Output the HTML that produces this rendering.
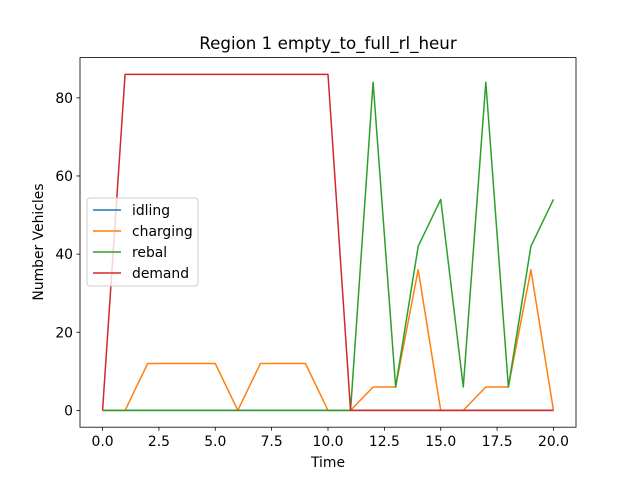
<!DOCTYPE html>
<html><head><meta charset="utf-8"><style>
body{margin:0;background:#fff;}
svg text{font-family:"DejaVu Sans","Liberation Sans",sans-serif;}
</style></head><body>
<svg id="chart" width="640" height="480" xmlns="http://www.w3.org/2000/svg">
<rect width="640" height="480" fill="#fff"/>
<text x="328" y="49" font-size="16.7" text-anchor="middle">Region 1 empty_to_full_rl_heur</text>
<g id="plot"></g>
<rect x="80" y="57.6" width="496" height="369.6" fill="none" stroke="#000" stroke-width="0.8"/>
<text x="328" y="467" font-size="13.9" text-anchor="middle">Time</text>
<text transform="translate(43,242) rotate(-90)" font-size="13.9" text-anchor="middle">Number Vehicles</text>
<g id="legend"></g>
</svg>
<script>
const times=[0,1,2,3,4,5,6,7,8,9,10,11,12,13,14,15,16,17,18,19,20];
const idling=[0,0,0,0,0,0,0,0,0,0,0,0,0,0,0,0,0,0,0,0,0];
const charging=[0,0,12,12,12,12,0,12,12,12,0,0,6,6,36,0,0,6,6,36,0];
const rebal=[0,0,0,0,0,0,0,0,0,0,0,0,84,6,42,54,6,84,6,42,54];
const demand=[0,86,86,86,86,86,86,86,86,86,86,0,0,0,0,0,0,0,0,0,0];
const xTicks=[0,2.5,5,7.5,10,12.5,15,17.5,20];
const xTickLabels=["0.0","2.5","5.0","7.5","10.0","12.5","15.0","17.5","20.0"];
const yTicks=[0,20,40,60,80];
const seriesNames=["idling","charging","rebal","demand"];
const colors=["#1f77b4","#ff7f0e","#2ca02c","#d62728"];
const L=80,R=576,T=57.6,B=427.2,xmin=-1,xmax=21,ymin=-4.3,ymax=90.3;
const sx=v=>L+(v-xmin)/(xmax-xmin)*(R-L);
const sy=v=>B-(v-ymin)/(ymax-ymin)*(B-T);
const NS="http://www.w3.org/2000/svg";
const svg=document.getElementById('chart');
const plot=document.getElementById('plot');
function mk(tag,attrs,parent){const e=document.createElementNS(NS,tag);for(const k in attrs)e.setAttribute(k,attrs[k]);parent.appendChild(e);return e;}
xTicks.forEach((t,i)=>{
 const l=mk('line',{x1:sx(t),x2:sx(t),y1:B,y2:B+3.5,stroke:'#000','stroke-width':0.8},svg);
 
 
 const tx=mk('text',{x:sx(t),y:B+19,'font-size':13.9,'text-anchor':'middle'},svg);
 tx.textContent=xTickLabels[i];
 
 
});
yTicks.forEach(t=>{
 const l=mk('line',{x1:L-3.5,x2:L,y1:sy(t),y2:sy(t),stroke:'#000','stroke-width':0.8},svg);
 
 
 const tx=mk('text',{x:L-7,y:sy(t)+5,'font-size':13.9,'text-anchor':'end'},svg);
 tx.textContent=String(t);
 
 
});
[idling,charging,rebal,demand].forEach((s,k)=>{
 const p=mk('polyline',{points:s.map((v,i)=>sx(times[i])+','+sy(v)).join(' '),fill:'none',stroke:colors[k],'stroke-width':1.5,'stroke-linejoin':'round'},plot);
 
 
});
const lg=document.getElementById('legend');
const box=mk('rect',{x:87,y:198,width:111,height:88,rx:3,fill:'#fff','fill-opacity':0.8,stroke:'#ccc'},lg);


seriesNames.forEach((n,k)=>{
 const y=210+k*21;
 const l=mk('line',{x1:93,x2:121,y1:y,y2:y,stroke:colors[k],'stroke-width':1.5},lg);
 
 
 const t=mk('text',{x:132,y:y+5,'font-size':13.9},lg);
 t.textContent=n;
 
 
});
</script>
</body></html>
